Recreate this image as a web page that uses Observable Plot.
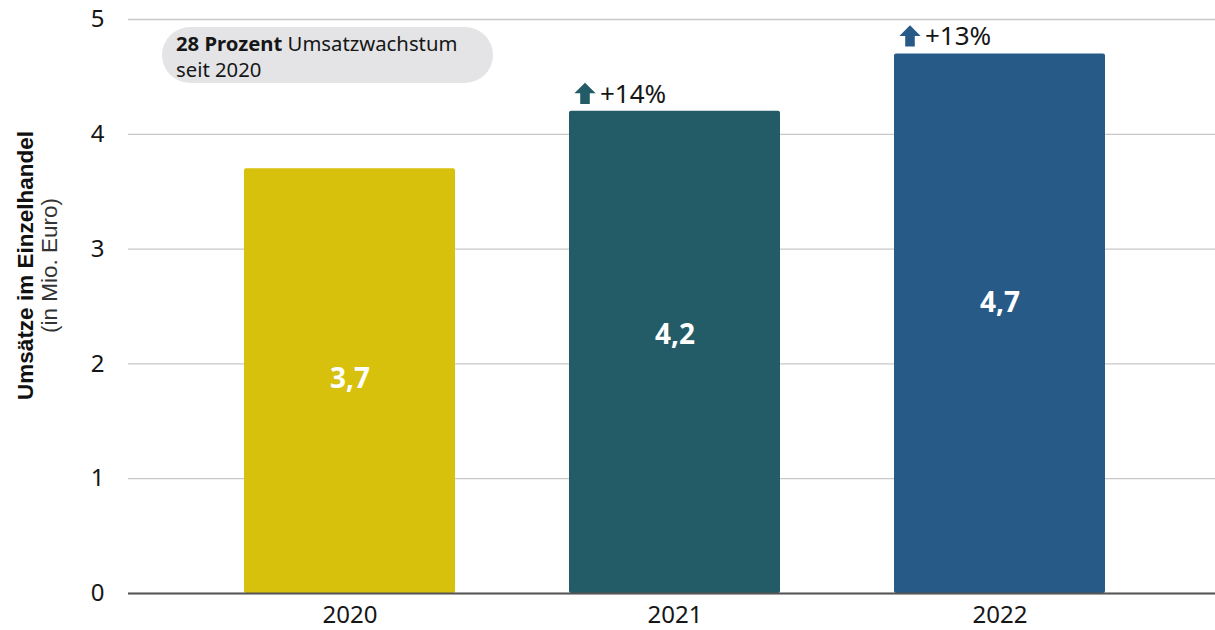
<!DOCTYPE html>
<html><head><meta charset="utf-8">
<script src="https://cdn.jsdelivr.net/npm/d3@7"></script>
<script src="https://cdn.jsdelivr.net/npm/@observablehq/plot@0.6"></script>
<style>
body{margin:0;background:#fff;font-family:"Noto Sans",sans-serif;}
#wrap{position:relative;width:1215px;height:630px;}
#note{position:absolute;left:162px;top:27px;width:331px;height:56px;box-sizing:border-box;background:#e4e4e6;border-radius:28px;padding:3px 14px;font-size:20.3px;line-height:26px;color:#161616;white-space:nowrap;}
[aria-label^="x-axis"], [aria-label^="x-axis"] text, [aria-label^="y-axis"], [aria-label^="y-axis"] text {font-size:24px;}
</style></head>
<body><div id="wrap"><div id="note"><b>28 Prozent</b> Umsatzwachstum<br>seit 2020</div></div>
<script>
const years = ["2020", "2021", "2022"];
const sales = [3.7, 4.2, 4.7];
const labelAt = [1.87, 2.25, 2.53];   // value-label anchor heights (in Mio. Euro)
const growth = [null, "+14%", "+13%"];
const colors = ["#d8c10c", "#235b66", "#275a87"];
const yTicks = [0, 1, 2, 3, 4, 5];
const yTitle = "Umsätze im Einzelhandel";
const ySub = "(in Mio. Euro)";

const data = years.map((y, i) => ({year: y, value: sales[i], at: labelAt[i], growth: growth[i], color: colors[i]}));
const fmt = v => v.toFixed(1).replace(".", ",");

const arrowSymbol = {
  draw(ctx, size) {
    const s = Math.sqrt(size) / 2;
    ctx.moveTo(0, -s);
    ctx.lineTo(s, 0);
    ctx.lineTo(s * 0.45, 0);
    ctx.lineTo(s * 0.45, s);
    ctx.lineTo(-s * 0.45, s);
    ctx.lineTo(-s * 0.45, 0);
    ctx.lineTo(-s, 0);
    ctx.closePath();
  }
};

const withG = data.filter(d => d.growth);

const chart = Plot.plot({
  width: 1215,
  height: 630,
  marginLeft: 128,
  marginRight: 0,
  marginTop: 19,
  marginBottom: 37,
  style: {fontFamily: "Noto Sans, sans-serif", fontSize: "24px", color: "#161616", background: "transparent"},
  x: {domain: years, range: [128, 1222], paddingInner: 0.35, paddingOuter: 0.353, label: null, tickSize: 0, tickPadding: 12},
  y: {domain: [0, 5], ticks: yTicks, tickFormat: "d", label: null, tickSize: 0, tickPadding: 24, grid: false},
  marks: [
    Plot.gridY(yTicks, {stroke: "#c8c8c8", strokeOpacity: 1, strokeWidth: 1.3}),
    Plot.barY(data, {x: "year", y: "value", fill: "color", rx: 2}),
    Plot.ruleY([0], {stroke: "#555", strokeWidth: 2}),
    Plot.text(data, {x: "year", y: "at", text: d => fmt(d.value), fill: "white", fontWeight: "bold", fontSize: 28}),
    Plot.dot(withG, {x: "year", y: "value", dx: -90, dy: -18, symbol: arrowSymbol, r: 12, fill: "color", stroke: null}),
    Plot.text(withG, {x: "year", y: "value", text: "growth", dx: -75, dy: -17, textAnchor: "start", fontSize: 26, fill: "#161616"}),
    Plot.text([yTitle], {frameAnchor: "left", text: d => d, rotate: -90, textAnchor: "middle", dx: -103, dy: -41, fontWeight: "bold", fontSize: 22.5, fontFamily: "Liberation Sans, Arial, sans-serif", fill: "#111"}),
    Plot.text([ySub], {frameAnchor: "left", text: d => d, rotate: -90, textAnchor: "middle", dx: -79, dy: -41, fontSize: 22.5, fontFamily: "Liberation Sans, Arial, sans-serif", fill: "#333"})
  ]
});
document.getElementById("wrap").prepend(chart);
chart.style.position = "absolute";
chart.style.left = "0";
chart.style.top = "0";
document.getElementById("note").style.zIndex = 2;
</script></body></html>
